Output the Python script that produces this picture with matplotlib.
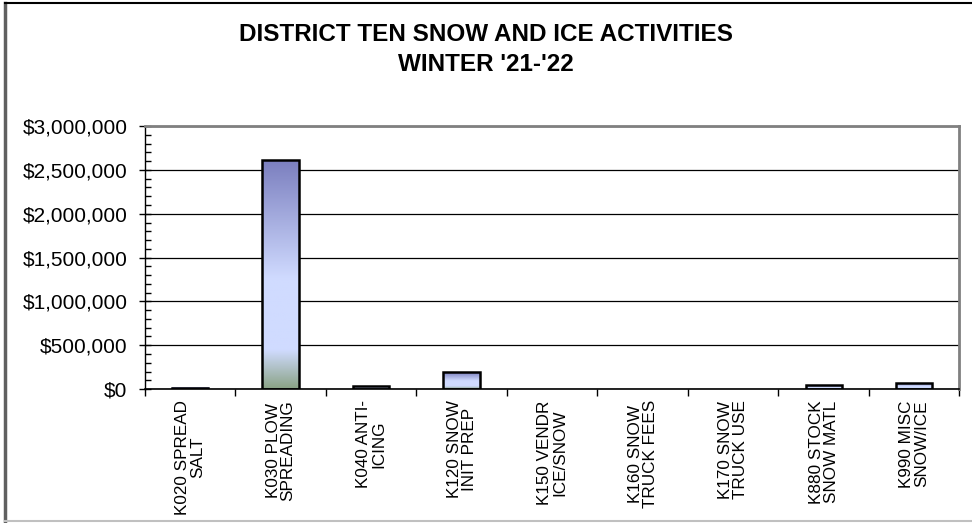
import numpy as np
import matplotlib.pyplot as plt
from matplotlib.colors import LinearSegmentedColormap
from matplotlib.ticker import FuncFormatter, MultipleLocator
from matplotlib.lines import Line2D

plt.rcParams['font.family'] = ['Liberation Sans', 'DejaVu Sans']

categories = ['K020 SPREAD\nSALT', 'K030 PLOW\nSPREADING', 'K040 ANTI-\nICING',
              'K120 SNOW\nINIT PREP', 'K150 VENDR\nICE/SNOW', 'K160 SNOW\nTRUCK FEES',
              'K170 SNOW\nTRUCK USE', 'K880 STOCK\nSNOW MATL', 'K990 MISC\nSNOW/ICE']
costs = [12000, 2610000, 30000, 190000, 0, 0, 0, 45000, 65000]

title = "DISTRICT TEN SNOW AND ICE ACTIVITIES\nWINTER '21-'22"

# gradient top -> bottom like the excel fill
grad = LinearSegmentedColormap.from_list('snow', [
    (0.0, '#7b7fbf'), (0.52, '#d0dbff'), (0.83, '#d0dbff'), (1.0, '#8aa385')])

fig = plt.figure(figsize=(9.72, 5.23), dpi=100)
ax = fig.add_axes([0.149, 0.256, 0.838, 0.503])

x = np.arange(len(categories))
width = 0.4
bars = ax.bar(x, costs, width, facecolor='none', edgecolor='black', linewidth=1.8, zorder=3)
img = np.linspace(0, 1, 256).reshape(-1, 1)
for b in bars:
    h = b.get_height()
    if h <= 0:
        b.set_linewidth(0)
        continue
    ax.imshow(img, cmap=grad, aspect='auto', zorder=2,
              extent=[b.get_x(), b.get_x() + b.get_width(), 0, h])

ax.set_xlim(-0.5, len(categories) - 0.5)
ax.set_ylim(0, 3000000)

ax.yaxis.set_major_locator(MultipleLocator(500000))
ax.yaxis.set_minor_locator(MultipleLocator(100000))
ax.yaxis.set_major_formatter(FuncFormatter(lambda v, p: f'${v:,.0f}'))
ax.grid(axis='y', color='black', linewidth=0.9, zorder=1)
ax.tick_params(axis='y', which='major', direction='inout', length=9, width=1,
               labelsize=15, pad=8)
ax.tick_params(axis='y', which='minor', direction='in', length=4, width=1)

ax.set_xticks(np.arange(len(categories) + 1) - 0.5, minor=False)
ax.set_xticklabels([])
ax.set_xticks(x, minor=True)
ax.set_xticklabels(categories, minor=True, rotation=90, fontsize=12.3,
                   ha='center', va='top', multialignment='center',
                   linespacing=1.0)
ax.tick_params(axis='x', which='major', direction='out', length=5, width=1)
ax.tick_params(axis='x', which='minor', length=0, pad=8)

for s in ['top', 'right']:
    ax.spines[s].set_color('#808080')
    ax.spines[s].set_linewidth(2)
ax.spines['left'].set_linewidth(1)
ax.spines['bottom'].set_linewidth(1.2)

fig.text(0.5, 0.906, title, ha='center', va='center', fontsize=17.5,
         fontweight='bold', linespacing=1.4)

# outer chart border
fig.add_artist(Line2D([0.005, 0.005], [0.003, 0.994], color='#606060', lw=2.5))
fig.add_artist(Line2D([0.005, 1.0], [0.994, 0.994], color='black', lw=1.5))
fig.add_artist(Line2D([0.005, 1.0], [0.003, 0.003], color='#c0c0c0', lw=1.5))

fig.savefig('out.png', dpi=100)
